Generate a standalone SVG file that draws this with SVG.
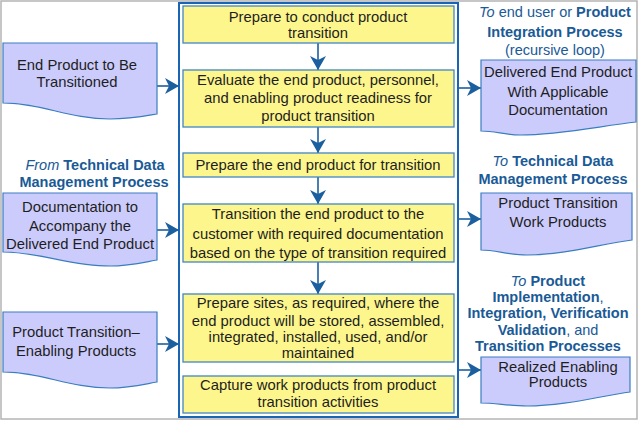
<svg xmlns="http://www.w3.org/2000/svg" width="639" height="421" viewBox="0 0 639 421">
<style>
.frame{fill:#fff;stroke:#b4b4b4;stroke-width:1.5}
.cont{fill:none;stroke:#1a64b4;stroke-width:2}
.box{fill:#fdf68c;stroke:#3f86c8;stroke-width:1.3}
.doc{fill:#ccccfc;stroke:#3a7dc0;stroke-width:1.2}
.con{fill:none;stroke:#1b5f9e;stroke-width:1.6}
text{font-family:"Liberation Sans",Arial,sans-serif;font-size:14.8px;fill:#1e1e1e;text-anchor:middle}
.lbl{fill:#1a5a96;font-size:14.5px}
.b{font-weight:bold}
.i{font-style:italic}
</style>
<defs>
<marker id="ah" markerUnits="userSpaceOnUse" markerWidth="16" markerHeight="16" refX="14" refY="8" orient="auto" viewBox="0 0 16 16">
<path d="M0,0 L14,8 L0,16 L4,8 Z" fill="#1b5f9e"/>
</marker>
</defs>
<rect class="frame" x="1" y="1" width="636" height="418"/>
<g id="connectors">
<line class="con" x1="318" y1="43" x2="318" y2="70" marker-end="url(#ah)"/>
<line class="con" x1="318" y1="127" x2="318" y2="153" marker-end="url(#ah)"/>
<line class="con" x1="318" y1="177" x2="318" y2="204" marker-end="url(#ah)"/>
<line class="con" x1="318" y1="262" x2="318" y2="294" marker-end="url(#ah)"/>
<line class="con" x1="157" y1="86" x2="179" y2="86" marker-end="url(#ah)"/>
<line class="con" x1="157" y1="230" x2="179" y2="230" marker-end="url(#ah)"/>
<line class="con" x1="157" y1="344" x2="179" y2="344" marker-end="url(#ah)"/>
<line class="con" x1="458" y1="88" x2="481" y2="88" marker-end="url(#ah)"/>
<line class="con" x1="458" y1="219" x2="481" y2="219" marker-end="url(#ah)"/>
<line class="con" x1="458" y1="370" x2="481" y2="370" marker-end="url(#ah)"/>
</g>
<g id="container"><rect class="cont" x="179" y="3" width="279" height="414"/></g>
<g id="step1"><rect class="box" x="183" y="6" width="271" height="37"/>
<text x="318" y="22">Prepare to conduct product</text><text x="318" y="38">transition</text></g>
<g id="step2"><rect class="box" x="183" y="70" width="271" height="57"/>
<text x="318" y="85">Evaluate the end product, personnel,</text><text x="318" y="103">and enabling product readiness for</text><text x="318" y="121">product transition</text></g>
<g id="step3"><rect class="box" x="183" y="153" width="271" height="24"/>
<text x="318" y="170">Prepare the end product for transition</text></g>
<g id="step4"><rect class="box" x="183" y="204" width="271" height="58"/>
<text x="318" y="219">Transition the end product to the</text><text x="318" y="239">customer with required documentation</text><text x="318" y="258">based on the type of transition required</text></g>
<g id="step5"><rect class="box" x="183" y="294" width="271" height="68"/>
<text x="318" y="308">Prepare sites, as required, where the</text><text x="318" y="326">end product will be stored, assembled,</text><text x="318" y="342">integrated, installed, used, and/or</text><text x="318" y="358">maintained</text></g>
<g id="step6"><rect class="box" x="183" y="376" width="271" height="37"/>
<text x="318" y="390">Capture work products from product</text><text x="318" y="407">transition activities</text></g>
<g id="in1"><path class="doc" d="M3,43 H157 V114 C145,116 130,119 110,119 C70,119 40,103 3,103 Z"/>
<text x="77" y="70">End Product to Be</text><text x="77" y="87">Transitioned</text></g>
<g id="in2"><text class="lbl" x="95" y="170"><tspan class="i">From</tspan> <tspan class="b">Technical Data</tspan></text><text class="lbl b" x="94" y="187">Management Process</text>
<path class="doc" d="M3,193 H157 V260 C145,262 130,266 110,266 C70,266 40,252 3,252 Z"/>
<text x="80" y="212">Documentation to</text><text x="80" y="231">Accompany the</text><text x="80" y="249">Delivered End Product</text></g>
<g id="in3"><path class="doc" d="M3,312 H157 V382 C145,384 130,388 110,388 C70,388 40,372 3,372 Z"/>
<text x="76" y="337">Product Transition–</text><text x="76" y="356">Enabling Products</text></g>
<g id="out1"><text class="lbl" x="555" y="17"><tspan class="i">To</tspan> end user or <tspan class="b">Product</tspan></text><text class="lbl b" x="555" y="37">Integration Process</text><text class="lbl" x="555" y="55">(recursive loop)</text>
<path class="doc" d="M481,60 H636 V122 C600,126 560,135 520,135 C505,135 495,131 481,131 Z"/>
<text x="558" y="77">Delivered End Product</text><text x="558" y="97">With Applicable</text><text x="558" y="115">Documentation</text></g>
<g id="out2"><text class="lbl" x="553" y="166"><tspan class="i">To</tspan> <tspan class="b">Technical Data</tspan></text><text class="lbl b" x="553" y="184">Management Process</text>
<path class="doc" d="M481,193 H632 V240 C600,244 565,255 527,255 C510,255 495,250 481,250 Z"/>
<text x="558" y="208">Product Transition</text><text x="558" y="227">Work Products</text></g>
<g id="out3"><text class="lbl" x="548" y="286"><tspan class="i">To</tspan> <tspan class="b">Product</tspan></text><text class="lbl b" x="548" y="302">Implementation<tspan font-weight="normal">,</tspan></text><text class="lbl b" x="548" y="318">Integration, Verification</text><text class="lbl" x="548" y="335"><tspan class="b">Validation</tspan>, and</text><text class="lbl b" x="548" y="351">Transition Processes</text>
<path class="doc" d="M481,357 H630 V392 C600,396 565,406 527,406 C510,406 495,403 481,403 Z"/>
<text x="558" y="372">Realized Enabling</text><text x="558" y="387">Products</text></g>
</svg>
